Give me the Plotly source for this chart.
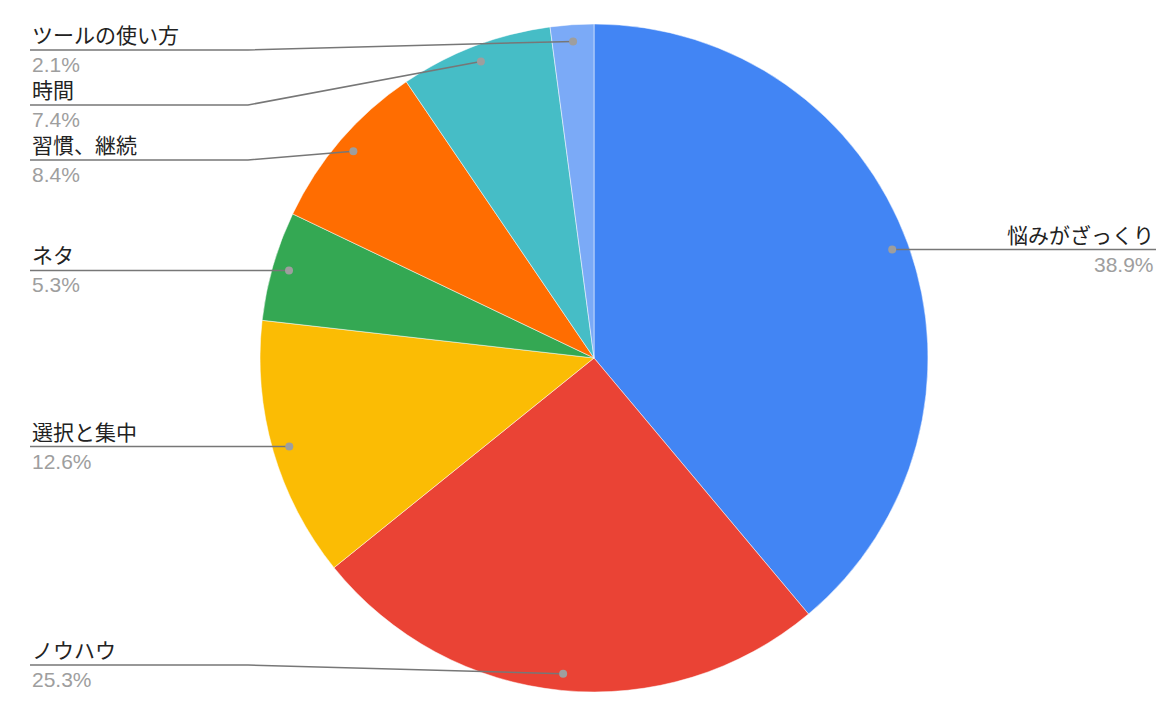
import math
import plotly.graph_objects as go

# Data
labels = ["悩みがざっくり", "ノウハウ", "選択と集中", "ネタ", "習慣、継続", "時間", "ツールの使い方"]
values = [38.9, 25.3, 12.6, 5.3, 8.4, 7.4, 2.1]
colors = ["#4285F4", "#EA4335", "#FBBC04", "#34A853", "#FF6D01", "#46BDC6", "#7BAAF7"]

# Screen geometry in pixels (page body has an 8px margin)
W, H, OFF = 1176, 724, 8
cx, cy, r = 594, 358, 334
font = "Liberation Sans, Noto Sans CJK JP, sans-serif"
FW, FH = W - 2 * OFF, H - 2 * OFF

fig = go.Figure()
fig.add_trace(go.Pie(
    labels=labels, values=values, sort=False, direction="clockwise", rotation=0,
    marker=dict(colors=colors, line=dict(color="white", width=0.5)),
    textinfo="none", showlegend=False,
    domain=dict(x=[(cx - r - OFF) / FW, (cx + r - OFF) / FW],
                y=[1 - (cy + r - OFF) / FH, 1 - (cy - r - OFF) / FH]),
))

# Leader dots at 95% of radius on each slice's mid angle
total = sum(values)
cum = 0
items = []
for lab, v in zip(labels, values):
    theta = 2 * math.pi * (cum + v / 2) / total
    cum += v
    dx = cx + 0.95 * r * math.sin(theta)
    dy = cy - 0.95 * r * math.cos(theta)
    items.append(dict(label=lab, pct=f"{v / total * 100:.1f}%", dx=dx, dy=dy,
                      side="right" if math.sin(theta) > 0 else "left"))

# Spread label rows so they do not overlap
for side in ["left", "right"]:
    rows = sorted([it for it in items if it["side"] == side], key=lambda it: it["dy"])
    prev = None
    for it in rows:
        y = min(max(it["dy"], 50), 665)
        if prev is not None:
            y = max(y, prev + 55)
        it["ly"] = y
        prev = y

shapes = []
annotations = []
for it in items:
    if it["side"] == "left":
        elbow, end, anchor = 248, 30, "left"
    else:
        elbow, end, anchor = W - 248, W - 20, "right"
    path = f"M{it['dx']},{it['dy']} L{elbow},{it['ly']} L{end},{it['ly']}"
    shapes.append(dict(type="path", path=path, xref="x", yref="y", layer="above",
                       line=dict(color="#777777", width=1.5)))
    shapes.append(dict(type="circle", xref="x", yref="y", layer="above",
                       x0=it["dx"] - 4, x1=it["dx"] + 4, y0=it["dy"] - 4, y1=it["dy"] + 4,
                       fillcolor="#9e9e9e", line=dict(width=0)))
    annotations.append(dict(x=end, y=it["ly"] - 1, xref="x", yref="y", text=it["label"],
                            showarrow=False, xanchor=anchor, yanchor="bottom",
                            font=dict(size=21, color="#222222", family=font)))
    annotations.append(dict(x=end, y=it["ly"] + 1, xref="x", yref="y", text=it["pct"],
                            showarrow=False, xanchor=anchor, yanchor="top",
                            font=dict(size=21, color="#9e9e9e", family=font)))

fig.update_layout(
    width=FW, height=FH, margin=dict(l=0, r=0, t=0, b=0),
    paper_bgcolor="white", plot_bgcolor="white",
    xaxis=dict(range=[OFF, W - OFF], visible=False, fixedrange=True),
    yaxis=dict(range=[H - OFF, OFF], visible=False, fixedrange=True),
    shapes=shapes, annotations=annotations, font=dict(family=font),
)

fig.write_html("out.html")
